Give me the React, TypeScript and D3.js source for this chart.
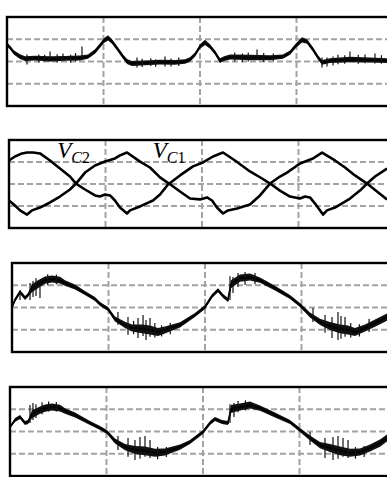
import React from "react";
import * as d3 from "d3";

// time in ms (10 ms / div), value in divisions; [t, v, noise half-width]
const trace1 = [
  [0, 0.76, 0.09], [0.31, 0.63, 0.09], [0.73, 0.4, 0.1], [1.35, 0.22, 0.11], [1.87, 0.13, 0.11],
  [2.9, 0.15, 0.11], [4.46, 0.12, 0.12], [6.01, 0.14, 0.11], [7.56, 0.16, 0.11], [8.39, 0.22, 0.1],
  [9.12, 0.45, 0.1], [9.64, 0.72, 0.1], [10.05, 0.94, 0.11], [10.47, 1.06, 0.12], [10.88, 0.9, 0.1],
  [11.5, 0.54, 0.1], [12.02, 0.22, 0.1], [12.44, 0.0, 0.11], [12.95, -0.09, 0.11], [14.3, -0.06, 0.11],
  [15.85, -0.03, 0.11], [17.41, -0.04, 0.11], [18.45, 0.0, 0.1], [18.96, 0.09, 0.1], [19.48, 0.31, 0.1],
  [20.0, 0.67, 0.1], [20.52, 0.86, 0.12], [21.04, 0.67, 0.1], [21.56, 0.4, 0.1], [22.07, 0.04, 0.11],
  [22.49, 0.13, 0.11], [23.11, 0.2, 0.11], [25.18, 0.18, 0.12], [27.25, 0.17, 0.11], [28.6, 0.22, 0.1],
  [29.33, 0.4, 0.1], [29.95, 0.72, 0.1], [30.57, 0.97, 0.12], [31.09, 0.9, 0.1], [31.71, 0.54, 0.1],
  [32.23, 0.18, 0.1], [32.64, -0.04, 0.11], [33.47, 0.04, 0.11], [35.54, 0.09, 0.12], [37.62, 0.07, 0.11],
  [39.38, 0.04, 0.11],
];
// [t, low, high]
const spikes1 = [
  [2.07, -0.13, 0.31], [3.3, -0.05, 0.32], [3.9, 0.0, 0.3], [4.46, 0.0, 0.45], [5.2, -0.04, 0.33],
  [5.8, 0.02, 0.36], [6.6, -0.06, 0.3], [7.1, 0.0, 0.38], [7.77, 0.09, 0.67], [13.47, -0.27, 0.18],
  [14.0, -0.25, 0.12], [14.9, -0.2, 0.15], [15.4, -0.24, 0.1], [16.37, -0.22, 0.22], [17.0, -0.22, 0.14],
  [17.8, -0.2, 0.18], [23.6, 0.0, 0.4], [24.4, -0.02, 0.36], [25.0, 0.0, 0.4], [25.91, 0.09, 0.54],
  [26.6, -0.02, 0.38], [27.6, 0.02, 0.36], [32.64, -0.27, 0.18], [33.16, -0.22, 0.18], [33.78, -0.18, 0.22],
  [34.3, -0.12, 0.3], [35.0, -0.1, 0.28], [35.54, 0.0, 0.45], [36.4, -0.1, 0.3], [37.1, -0.08, 0.32],
  [38.13, -0.09, 0.36], [38.8, -0.1, 0.28],
];

// capacitor voltages V_C2 (starts high) and V_C1 (starts low): [t, v]
const vc2 = [
  [0, 1.07], [0.62, 1.25], [1.35, 1.39], [1.87, 1.43], [2.49, 1.43], [3.21, 1.39], [4.25, 1.07], [5.28, 0.7],
  [6.32, 0.34], [6.94, 0.02], [7.88, -0.25], [8.91, -0.52], [9.43, -0.57], [9.95, -0.48], [10.47, -0.52],
  [10.98, -0.75], [11.5, -1.07], [12.23, -1.34], [12.54, -1.2], [13.58, -1.02], [14.92, -0.75], [15.65, -0.48],
  [16.48, -0.02], [17.72, 0.39], [19.07, 0.8], [20.1, 0.98], [21.14, 1.25], [22.18, 1.43], [23.42, 1.07],
  [24.97, 0.57], [26.22, 0.25], [27.05, 0.02], [28.08, -0.3], [29.12, -0.57], [30.16, -0.66], [30.67, -0.57],
  [31.19, -0.61], [31.71, -0.89], [32.54, -1.39], [32.95, -1.2], [33.78, -1.07], [35.34, -0.66], [36.37, -0.3],
  [37.1, 0.02], [37.93, 0.34], [39.17, 0.7],
];
const vc1 = [
  [0, -0.75], [0.62, -0.98], [1.14, -1.2], [1.87, -1.39], [2.38, -1.2], [3.21, -1.07], [4.25, -0.84],
  [5.28, -0.57], [6.32, -0.25], [6.94, 0.02], [7.88, 0.52], [8.91, 0.84], [9.95, 1.02], [10.98, 1.16],
  [11.5, 1.3], [12.23, 1.43], [13.58, 1.02], [14.61, 0.75], [15.65, 0.3], [16.58, 0.02], [17.72, -0.34],
  [18.76, -0.66], [19.79, -0.7], [20.52, -0.61], [21.04, -0.75], [21.55, -1.07], [22.18, -1.34], [22.69, -1.2],
  [23.63, -1.11], [24.97, -0.93], [26.01, -0.52], [27.05, 0.02], [28.08, 0.34], [28.81, 0.52], [30.16, 0.93],
  [31.5, 1.16], [32.44, 1.43], [33.78, 1.07], [34.82, 0.75], [35.85, 0.39], [37.1, 0.02], [38.13, -0.34],
  [39.17, -0.7],
];
const vcLabels = [
  { name: "V", sub: "C", idx: "2", t: 5.0, v: 1.2 },
  { name: "V", sub: "C", idx: "1", t: 14.9, v: 1.2 },
];

const trace3 = [
  [0, 0.02, 0.04], [0.31, 0.34, 0.09], [0.83, 0.7, 0.09], [1.35, 0.43, 0.09], [1.66, 0.56, 0.09],
  [2.07, 0.87, 0.18], [2.69, 1.05, 0.18], [3.42, 1.23, 0.16], [4.15, 1.28, 0.16], [4.97, 1.23, 0.15],
  [5.49, 1.1, 0.12], [6.53, 0.92, 0.11], [7.56, 0.65, 0.09], [8.6, 0.38, 0.09], [9.12, 0.16, 0.09],
  [9.95, -0.07, 0.09], [10.67, -0.52, 0.11], [11.71, -0.78, 0.14], [12.44, -0.92, 0.16], [13.47, -0.96, 0.2],
  [14.3, -1.01, 0.2], [15.13, -1.1, 0.18], [15.85, -1.01, 0.16], [17.41, -0.78, 0.12], [18.96, -0.34, 0.09],
  [20.0, 0.02, 0.09], [20.73, 0.52, 0.09], [21.35, 0.78, 0.09], [21.87, 0.52, 0.09], [22.38, 0.34, 0.09],
  [22.69, 1.05, 0.18], [23.63, 1.32, 0.16], [24.66, 1.37, 0.16], [25.7, 1.23, 0.12], [27.25, 0.87, 0.11],
  [28.81, 0.47, 0.09], [29.84, 0.11, 0.09], [30.88, -0.34, 0.11], [31.92, -0.65, 0.14], [32.95, -0.83, 0.18],
  [33.99, -0.96, 0.2], [34.82, -1.01, 0.2], [35.54, -1.1, 0.18], [36.58, -0.92, 0.16], [37.62, -0.7, 0.16],
  [38.86, -0.43, 0.16],
];
const spikes3 = [
  [0.83, 0.34, 0.78], [1.87, 0.34, 1.1], [2.18, 0.47, 1.19], [2.49, 0.52, 1.32], [2.9, 0.43, 1.14],
  [3.7, 1.0, 1.5], [4.6, 1.05, 1.48], [10.98, -0.78, -0.2], [12.02, -1.23, -0.43], [12.6, -1.2, -0.6],
  [13.06, -1.37, -0.47], [13.58, -1.28, -0.34], [13.89, -1.46, -0.56], [14.3, -1.32, -0.47], [14.8, -1.35, -0.7],
  [15.5, -1.3, -0.8], [16.4, -1.2, -0.7], [22.59, 0.34, 1.41], [22.9, 0.65, 1.37], [23.42, 0.92, 1.55],
  [24.15, 1.01, 1.59], [25.18, 1.05, 1.55], [31.19, -0.65, -0.02], [32.44, -1.14, -0.34], [33.16, -1.37, -0.43],
  [33.78, -1.46, -0.2], [34.09, -1.41, -0.38], [34.51, -1.32, -0.43], [35.1, -1.35, -0.7], [36.0, -1.3, -0.75],
  [37.0, -1.1, -0.5],
];

const trace4 = [
  [0, 0.2, 0.04], [0.52, 0.52, 0.09], [1.04, 0.65, 0.09], [1.55, 0.38, 0.09], [1.87, 0.43, 0.09],
  [2.28, 0.78, 0.18], [3.11, 0.96, 0.16], [3.63, 1.05, 0.16], [4.35, 1.1, 0.16], [5.18, 1.05, 0.15],
  [5.7, 0.92, 0.12], [6.74, 0.74, 0.11], [8.29, 0.38, 0.09], [9.33, 0.16, 0.09], [10.05, -0.02, 0.09],
  [10.88, -0.43, 0.11], [11.92, -0.7, 0.14], [12.95, -0.83, 0.18], [13.99, -0.87, 0.2], [15.03, -0.96, 0.18],
  [16.06, -0.92, 0.16], [17.62, -0.7, 0.12], [18.65, -0.47, 0.09], [20.0, -0.02, 0.09], [20.73, 0.38, 0.09],
  [21.24, 0.56, 0.09], [21.97, 0.43, 0.09], [22.59, 0.38, 0.09], [22.9, 1.01, 0.18], [23.83, 1.1, 0.16],
  [24.87, 1.19, 0.16], [25.91, 1.05, 0.12], [27.46, 0.74, 0.11], [29.02, 0.43, 0.09], [30.05, 0.07, 0.09],
  [31.09, -0.29, 0.11], [32.12, -0.61, 0.14], [33.16, -0.74, 0.18], [34.2, -0.87, 0.2], [35.23, -0.96, 0.18],
  [36.27, -0.92, 0.16], [37.31, -0.74, 0.16], [38.34, -0.52, 0.16], [39.07, -0.29, 0.16],
];
const spikes4 = [
  [2.07, 0.38, 1.19], [2.38, 0.52, 1.28], [2.69, 0.61, 1.23], [3.32, 0.78, 1.32], [4.0, 0.9, 1.35],
  [4.8, 0.9, 1.33], [11.19, -0.83, -0.2], [12.23, -1.14, -0.29], [12.95, -1.28, -0.38], [13.47, -1.23, -0.25],
  [13.99, -1.14, -0.2], [14.51, -1.19, -0.38], [15.3, -1.25, -0.7], [16.2, -1.15, -0.7], [22.8, 0.38, 1.23],
  [23.21, 0.65, 1.28], [23.63, 0.87, 1.37], [24.4, 0.95, 1.4], [31.09, -0.61, -0.02], [32.64, -1.19, -0.29],
  [33.47, -1.28, -0.25], [33.99, -1.23, -0.2], [34.51, -1.14, -0.29], [35.03, -1.19, -0.38], [35.8, -1.22, -0.7],
  [36.7, -1.15, -0.65],
];

const W = 387;
const H = 477;
const DIV_W = 96.5;

const panels = [
  { id: "p1", left: 7, top: 17, h: 89, noisy: [trace1], spikes: spikes1, lines: [] as number[][][] },
  { id: "p2", left: 9, top: 140, h: 88, noisy: [], spikes: [], lines: [vc2, vc1] },
  { id: "p3", left: 12, top: 263, h: 89, noisy: [trace3], spikes: spikes3, lines: [] },
  { id: "p4", left: 10, top: 387, h: 89, noisy: [trace4], spikes: spikes4, lines: [] },
];

function Panel({ p }: { p: (typeof panels)[number] }) {
  const x = d3.scaleLinear().domain([0, 40]).range([p.left, p.left + 4 * DIV_W]);
  const y = d3.scaleLinear().domain([-2, 2]).range([p.top + p.h, p.top]);
  const xt = x.ticks(4).filter((d) => d > 0 && d < 40);
  const yt = [-1, 0, 1];

  const area = d3
    .area<number[]>()
    .x((d) => x(d[0]))
    .y0((d) => y(d[1] - d[2]))
    .y1((d) => y(d[1] + d[2]));
  const line = d3
    .line<number[]>()
    .x((d) => x(d[0]))
    .y((d) => y(d[1]));

  const x0 = x(0), x1 = x(40), y0 = y(2), y1 = y(-2);

  return (
    <g>
      <clipPath id={"clip-" + p.id}>
        <rect x={x0} y={y0} width={x1 - x0} height={y1 - y0} />
      </clipPath>
      <g stroke="#a3a3a3" strokeWidth={2} strokeDasharray="6,3" fill="none">
        {xt.map((t) => (
          <line key={"v" + t} x1={x(t)} x2={x(t)} y1={y0} y2={y1} />
        ))}
        {yt.map((v) => (
          <line key={"h" + v} x1={x0} x2={x1} y1={y(v)} y2={y(v)} />
        ))}
      </g>
      <g clipPath={`url(#clip-${p.id})`}>
        {p.noisy.map((tr, i) => (
          <g key={i}>
            <path d={area(tr) || ""} fill="#111" />
            <path d={line(tr) || ""} fill="none" stroke="#000" strokeWidth={1.8} />
          </g>
        ))}
        {p.spikes.map((s, i) => (
          <line key={"s" + i} x1={x(s[0])} x2={x(s[0])} y1={y(s[1])} y2={y(s[2])} stroke="#111" strokeWidth={1.2} />
        ))}
        {p.lines.map((tr, i) => (
          <path key={"l" + i} d={line(tr) || ""} fill="none" stroke="#000" strokeWidth={2.6} strokeLinejoin="round" />
        ))}
      </g>
      <rect x={x0} y={y0} width={x1 - x0} height={y1 - y0} fill="none" stroke="#000" strokeWidth={2.4} />
      {p.id === "p2" &&
        vcLabels.map((l) => (
          <text key={l.idx} x={x(l.t)} y={y(l.v)} fontFamily="'Liberation Serif', 'DejaVu Serif', serif" fill="#000">
            <tspan fontStyle="italic" fontSize={23}>{l.name}</tspan>
            <tspan fontStyle="italic" fontSize={16} dy={5}>{l.sub}</tspan>
            <tspan fontSize={16}>{l.idx}</tspan>
          </text>
        ))}
    </g>
  );
}

export default function App() {
  return (
    <svg width={W} height={H} style={{ position: "absolute", left: 0, top: 0, background: "#fff" }}>
      <rect width={W} height={H} fill="#fff" />
      {panels.map((p) => (
        <Panel key={p.id} p={p} />
      ))}
    </svg>
  );
}
